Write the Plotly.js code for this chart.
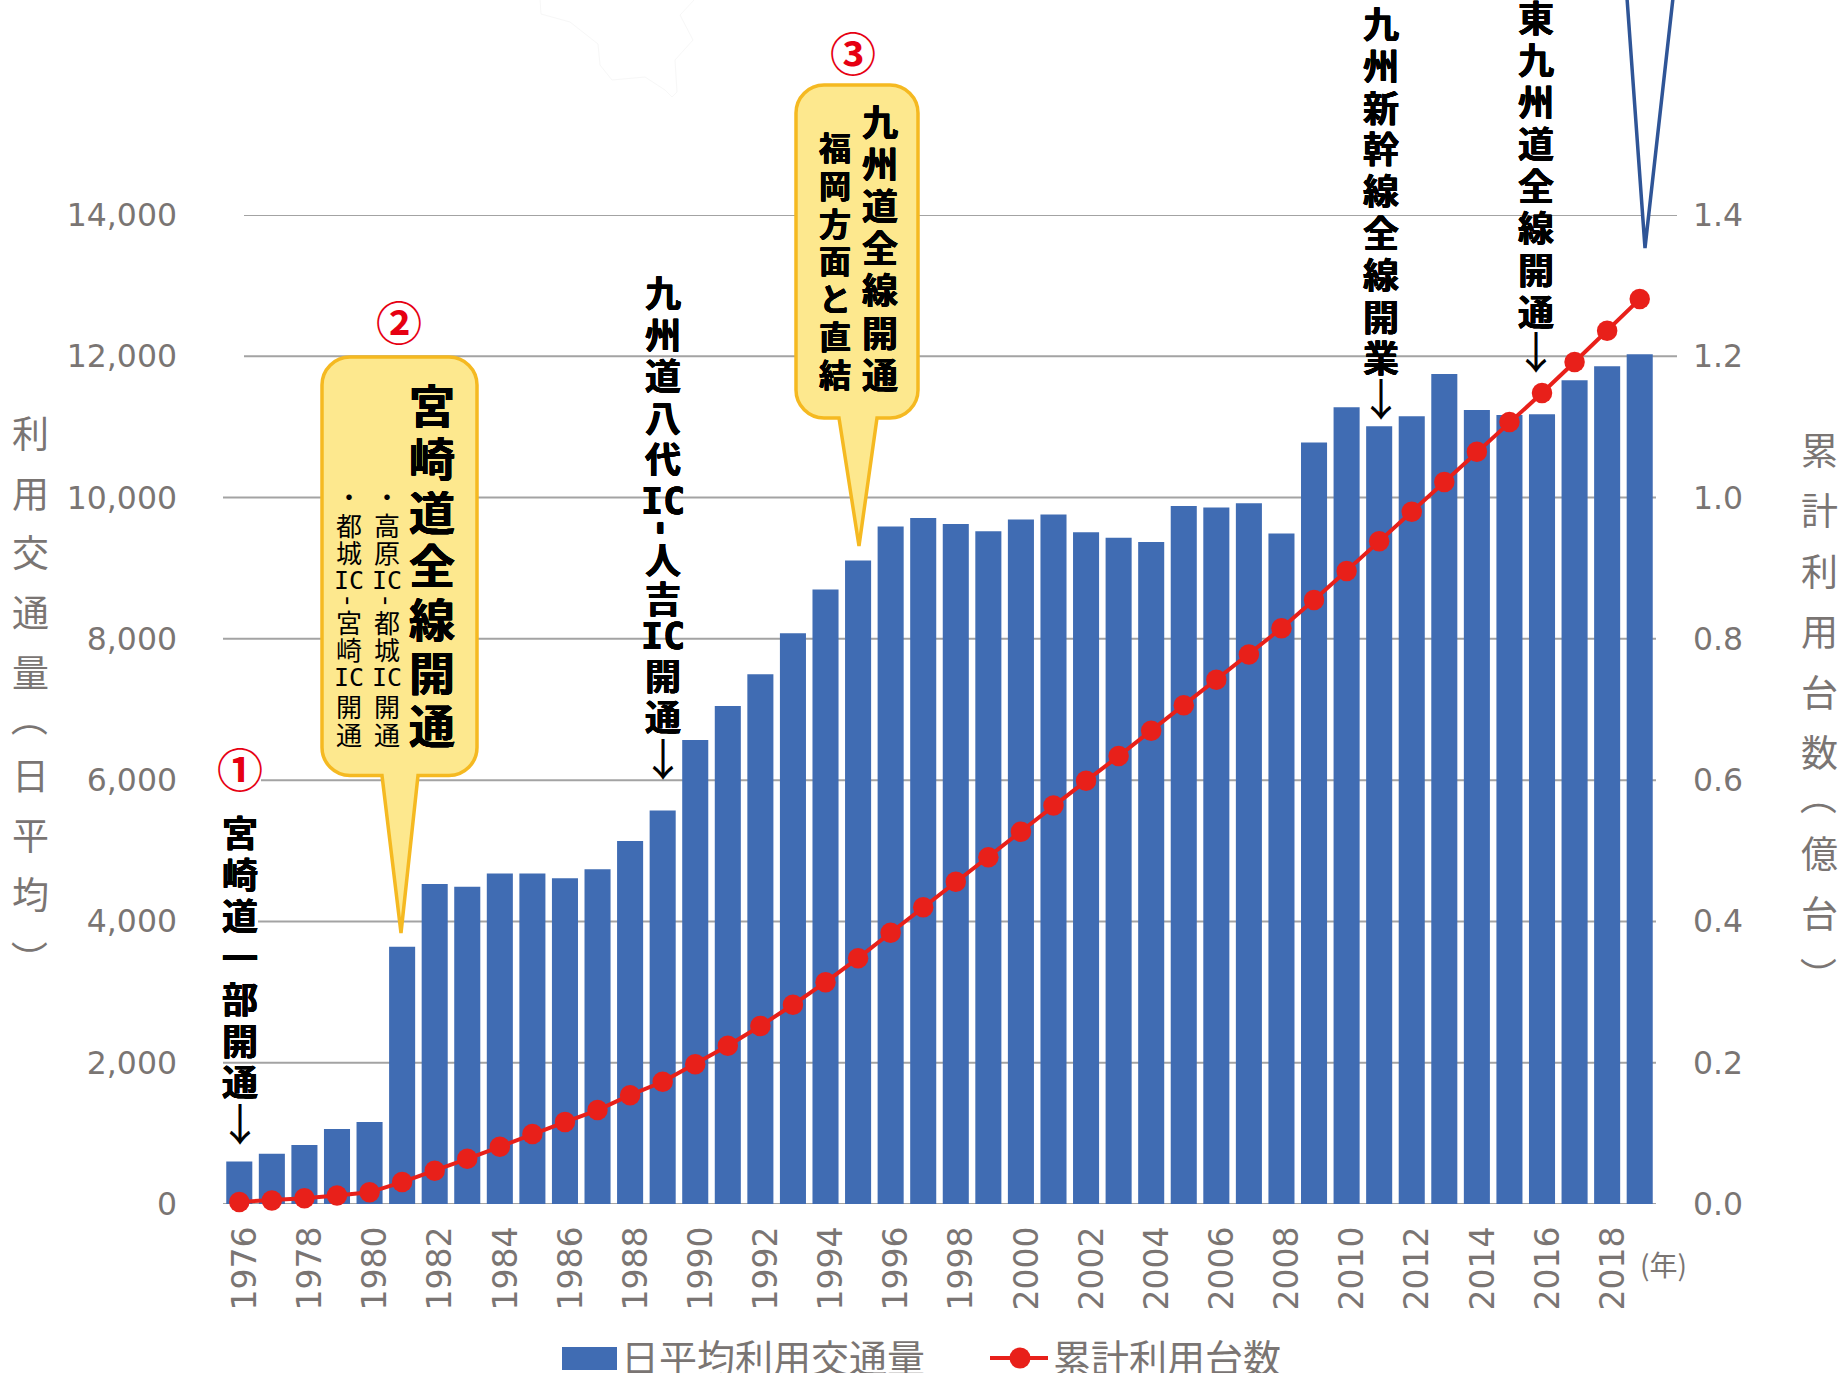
<!DOCTYPE html>
<html lang="ja">
<head>
<meta charset="utf-8">
<title>宮崎道 利用交通量と累計利用台数</title>
<script src="https://cdn.plot.ly/plotly-3.0.1.min.js"></script>
<style>html,body{margin:0;padding:0;background:#fff}#chart{width:1842px;height:1373px}</style>
</head>
<body>
<div id="chart"></div>
<script>
const years = [1976,1977,1978,1979,1980,1981,1982,1983,1984,1985,1986,1987,1988,1989,1990,1991,1992,1993,1994,1995,1996,1997,1998,1999,2000,2001,2002,2003,2004,2005,2006,2007,2008,2009,2010,2011,2012,2013,2014,2015,2016,2017,2018,2019];
const dailyTraffic = [600,710,835,1060,1160,3640,4530,4490,4680,4680,4610,4740,5140,5570,6570,7050,7500,8080,8700,9110,9590,9710,9625,9525,9690,9760,9510,9430,9370,9880,9860,9920,9490,10780,11280,11010,11150,11750,11240,11170,11180,11660,11860,12030];
const cumulativeUnits = [0.003,0.005,0.008,0.012,0.0165,0.031,0.047,0.064,0.081,0.099,0.116,0.133,0.154,0.173,0.198,0.224,0.252,0.282,0.314,0.348,0.384,0.42,0.456,0.491,0.527,0.564,0.599,0.634,0.67,0.706,0.742,0.778,0.815,0.855,0.896,0.938,0.98,1.022,1.065,1.107,1.148,1.192,1.236,1.281];
const leftTicks = [0,2000,4000,6000,8000,10000,12000,14000];
const rightTicks = [0,0.2,0.4,0.6,0.8,1.0,1.2,1.4];
const seriesNames = ['日平均利用交通量','累計利用台数'];

const W=1842,H=1373,L=223,R=1656,T=215,B=1204;
const px=x=>(x-L)/(R-L), py=y=>(B-y)/(B-T);
const GREY='#7a7573', BLUE='#406cb3', RED='#e8201a', JP='"Noto Sans CJK JP"', NUM='"DejaVu Sans"', MONO='"DejaVu Sans Mono"';
const HEAVY='0.45px 0 0 #000,-0.45px 0 0 #000,0 0.45px 0 #000,0 -0.45px 0 #000';

const annotations=[];
function txt(s,x,y,size,opt={}){
  const font={family:opt.family||JP,size:size,color:opt.color||'#000',weight:opt.bold?700:400};
  if(opt.bold&&!opt.color) font.shadow=HEAVY;
  annotations.push({text:s,x:px(x),y:py(y-3),xref:'paper',yref:'paper',showarrow:false,
    xanchor:opt.anchor||'center',yanchor:'middle',textangle:opt.angle||0,font});
}
function column(tokens,x,ys,size,opt={}){
  tokens.forEach((t,i)=>{
    if(t==='（'||t==='）') txt(t,x,ys[i],size,Object.assign({},opt,{angle:90}));
    else if(t==='-') txt(t,x,ys[i],size,Object.assign({},opt,{angle:90,family:NUM}));
    else if(t==='IC') txt(t,x,ys[i],size*(opt.bold?1.02:0.96),Object.assign({},opt,{family:MONO}));
    else txt(t,x,ys[i],size,opt);
  });
}
function even(y0,step,n){const a=[];for(let i=0;i<n;i++)a.push(y0+i*step);return a;}

// axis titles
column([...'利用交通量（日平均）'],30.5,[435,495,554,614,674,721,777,837,896,962],37,{color:GREY});
column([...'累計利用台数（億台）'],1820,[452,512,573,633,694,754,800,855,915,979],37,{color:GREY});
txt('(年)',1664,1267,28,{color:GREY});

// event labels
txt('①',240,770,46,{color:'#e60012',bold:true});
column([...'宮崎道一部開通'],240,even(834,41.5,7),36,{bold:true});
txt('↓',240,1125,44);

txt('②',399,323,46,{color:'#e60012',bold:true});
column([...'宮崎道全線開通'],432,even(406,53.4,7),46,{bold:true});
const smallYs=[498,527,554.5,583,603,624,651,680,708,736];
column(['・','高','原','IC','-','都','城','IC','開','通'],387,smallYs,26);
column(['・','都','城','IC','-','宮','崎','IC','開','通'],349,smallYs,26);

column(['九','州','道','八','代','IC','-','人','吉','IC','開','通'],662.5,[294,336,377,419,460,504,531,561,600,639,677,718],36,{bold:true});
txt('↓',662.5,760,44);

txt('③',853,54,46,{color:'#e60012',bold:true});
column([...'九州道全線開通'],880,even(123.5,42,7),36,{bold:true});
column([...'福岡方面と直結'],835,even(149,37.8,7),32,{bold:true});

column([...'九州新幹線全線開業'],1380.7,even(25,41.8,9),36,{bold:true});
txt('↓',1380.7,400,44);
column([...'東九州道全線開通'],1536,even(19,42,8),36,{bold:true});
txt('↓',1536,353,44);

// legend
txt(seriesNames[0],619,1358.5,38,{color:GREY,anchor:'left'});
txt(seriesNames[1],1051,1358.5,38,{color:GREY,anchor:'left'});

// shapes
const shapes=[];
function P(points,closed){return points.map((p,i)=>(i?'L':'M')+px(p[0])+','+py(p[1])).join(' ')+(closed?' Z':'');}
function callout(x0,x1,y0,y1,r,bx0,bx1,tx,ty){
  const k=0.45*r;
  const d=[`M${px(x0+r)},${py(y0)}`,`L${px(x1-r)},${py(y0)}`,
   `C${px(x1-k)},${py(y0)} ${px(x1)},${py(y0+k)} ${px(x1)},${py(y0+r)}`,
   `L${px(x1)},${py(y1-r)}`,
   `C${px(x1)},${py(y1-k)} ${px(x1-k)},${py(y1)} ${px(x1-r)},${py(y1)}`,
   `L${px(bx1)},${py(y1)}`,`L${px(tx)},${py(ty)}`,`L${px(bx0)},${py(y1)}`,
   `L${px(x0+r)},${py(y1)}`,
   `C${px(x0+k)},${py(y1)} ${px(x0)},${py(y1-k)} ${px(x0)},${py(y1-r)}`,
   `L${px(x0)},${py(y0+r)}`,
   `C${px(x0)},${py(y0+k)} ${px(x0+k)},${py(y0)} ${px(x0+r)},${py(y0)}`,'Z'].join(' ');
  shapes.push({type:'path',xref:'paper',yref:'paper',path:d,fillcolor:'#fde88e',line:{color:'#f5b921',width:3.5}});
}
// gridlines: the upper two are offset in the reference
const gridStart={0:223,2000:223,4000:258,6000:261,8000:223,10000:223,12000:244,14000:244};
leftTicks.forEach(v=>{
  const hi=v>=12000;
  shapes.push({type:'line',layer:'below',xref:'paper',yref:'y',x0:px(gridStart[v]),x1:px(hi?1677:1656),y0:v,y1:v,line:{color:'#a3a3a3',width:2}});
});
callout(322,477,357,775.5,28,382,418,401,933);
callout(796,918,85,418,28,839,877,859,546);
// blue pointer running off the top edge
shapes.push({type:'path',xref:'paper',yref:'paper',path:P([[1627,-2],[1645,248],[1673,-2]],false),fillcolor:'#ffffff',line:{color:'#2f5597',width:3.5}});
// faint map outline at the top
shapes.push({type:'path',xref:'paper',yref:'paper',path:P([[540,-1],[541,14],[570,22],[598,44],[600,65],[612,80],[645,77],[665,90],[672,97],[677,92],[675,60],[693,40],[680,15],[695,-1]],false),line:{color:'#f7f7f7',width:1}});
// legend keys
shapes.push({type:'rect',xref:'paper',yref:'paper',x0:px(562),x1:px(617),y0:py(1347),y1:py(1370),fillcolor:BLUE,line:{width:0}});
shapes.push({type:'line',xref:'paper',yref:'paper',x0:px(990),x1:px(1048),y0:py(1358),y1:py(1358),line:{color:RED,width:4}});
shapes.push({type:'circle',xref:'paper',yref:'paper',x0:px(1009.5),x1:px(1030.5),y0:py(1347.5),y1:py(1368.5),fillcolor:RED,line:{width:0}});

const traces=[
 {type:'bar',name:seriesNames[0],x:years,y:dailyTraffic,marker:{color:BLUE,line:{width:0}},yaxis:'y',cliponaxis:false},
 {type:'scatter',mode:'lines+markers',name:seriesNames[1],x:years,y:cumulativeUnits,yaxis:'y2',cliponaxis:false,
  line:{color:RED,width:4},marker:{color:RED,size:20.5}}
];
const tickfont={family:NUM,size:31.5,color:GREY};
const layout={
 width:W,height:H,paper_bgcolor:'#fff',plot_bgcolor:'rgba(0,0,0,0)',showlegend:false,bargap:0.2,
 margin:{l:L,r:W-R,t:T,b:H-B,pad:0},
 xaxis:{range:[1975.5,2019.5],tickmode:'array',tickvals:years.filter((y,i)=>i%2===0),ticktext:years.filter((y,i)=>i%2===0).map(String),
  tickangle:-90,tickfont:{family:NUM,size:33,color:GREY},showgrid:false,zeroline:false,showline:false,ticks:'',ticklabelstandoff:15,ticklabelshift:6},
 yaxis:{range:[0,14000],tickmode:'array',tickvals:leftTicks,ticktext:leftTicks.map(v=>v.toLocaleString('en-US')),tickfont,showgrid:false,zeroline:false,showline:false,ticks:'',ticklabelstandoff:45},
 yaxis2:{range:[0,1.4],overlaying:'y',side:'right',tickmode:'array',tickvals:rightTicks,ticktext:rightTicks.map(v=>v.toFixed(1)),tickfont,showgrid:false,zeroline:false,showline:false,ticks:'',ticklabelstandoff:36},
 shapes,annotations
};
Plotly.newPlot('chart',traces,layout,{staticPlot:true,displayModeBar:false});
</script>
</body>
</html>
